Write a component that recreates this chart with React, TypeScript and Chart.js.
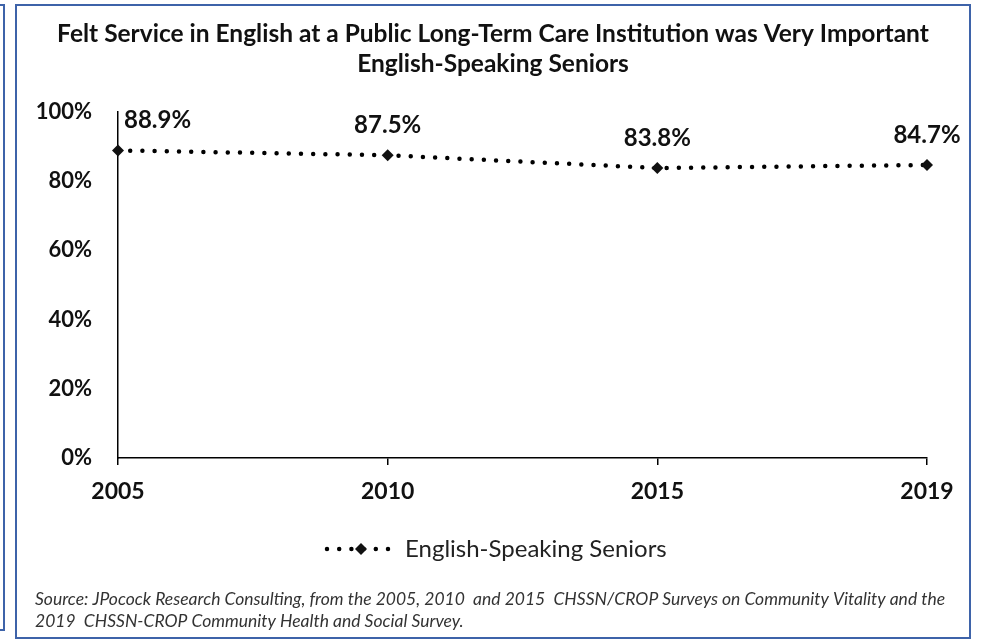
import React, { useEffect, useRef } from "react";
import { Chart, registerables } from "chart.js";

Chart.register(...registerables);

const YEARS = ["2005", "2010", "2015", "2019"];
const SENIORS = [88.9, 87.5, 83.8, 84.7];
const SERIES_NAME = "English-Speaking Seniors";
const Y_TICKS = [0, 20, 40, 60, 80, 100];
const TITLE_LINES = [
  "Felt Service in English at a Public Long-Term Care Institution was Very Important",
  "English-Speaking Seniors",
];
const SOURCE_LINES = [
  "Source: JPocock Research Consulting, from the 2005, 2010  and 2015  CHSSN/CROP Surveys on Community Vitality and the",
  "2019  CHSSN-CROP Community Health and Social Survey.",
];

const FONT = "Lato, 'Open Sans', sans-serif";
const FRAME = "#3E63A9";

const decorPlugin = {
  id: "decor",
  beforeDraw(chart: any) {
    const ctx = chart.ctx;
    ctx.save();
    ctx.fillStyle = "#ffffff";
    ctx.fillRect(0, 0, chart.width, chart.height);
    ctx.strokeStyle = FRAME;
    ctx.lineWidth = 2;
    ctx.beginPath();
    ctx.moveTo(0, 5);
    ctx.lineTo(4, 5);
    ctx.lineTo(4, 630);
    ctx.lineTo(0, 630);
    ctx.stroke();
    ctx.strokeRect(16, 5, 954, 633);
    ctx.restore();
  },
  afterDraw(chart: any) {
    const ctx = chart.ctx;
    ctx.save();
    ctx.fillStyle = "#111";
    ctx.font = `bold 24.5px ${FONT}`;
    ctx.textAlign = "center";
    ctx.textBaseline = "middle";
    ctx.fillText(TITLE_LINES[0], 493, 34);
    ctx.fillText(TITLE_LINES[1], 493, 64);

    const meta = chart.getDatasetMeta(0);
    ctx.font = `bold 24px ${FONT}`;
    ctx.fillStyle = "#111";
    meta.data.forEach((pt: any, i: number) => {
      const v = chart.data.datasets[0].data[i];
      const txt = v.toFixed(1) + "%";
      if (i === 0) {
        ctx.textAlign = "left";
        ctx.fillText(txt, pt.x + 6, pt.y - 30);
      } else {
        ctx.textAlign = "center";
        ctx.fillText(txt, pt.x, pt.y - 30);
      }
    });

    const ly = 549;
    ctx.strokeStyle = "#000";
    ctx.lineWidth = 4.5;
    ctx.lineCap = "round";
    ctx.setLineDash([0, 12.2]);
    ctx.beginPath();
    ctx.moveTo(327, ly);
    ctx.lineTo(400, ly);
    ctx.stroke();
    ctx.setLineDash([]);
    ctx.fillStyle = "#111";
    ctx.beginPath();
    ctx.moveTo(361, ly - 6);
    ctx.lineTo(367, ly);
    ctx.lineTo(361, ly + 6);
    ctx.lineTo(355, ly);
    ctx.closePath();
    ctx.fill();
    ctx.font = `24px ${FONT}`;
    ctx.textAlign = "left";
    ctx.fillStyle = "#222";
    ctx.fillText(chart.data.datasets[0].label, 405, ly);

    ctx.font = `italic 17.5px ${FONT}`;
    ctx.fillStyle = "#333";
    ctx.fillText(SOURCE_LINES[0], 35, 599);
    ctx.fillText(SOURCE_LINES[1], 35, 621);
    ctx.restore();
  },
};

export default function App() {
  const ref = useRef<HTMLCanvasElement>(null);
  useEffect(() => {
    document.body.style.margin = "0";
    const chart = new Chart(ref.current!, {
      type: "line",
      data: {
        labels: YEARS,
        datasets: [
          {
            label: SERIES_NAME,
            data: SENIORS,
            borderColor: "#000",
            backgroundColor: "#111",
            borderWidth: 4.5,
            borderDash: [0, 12.2],
            borderCapStyle: "round",
            pointStyle: "rectRot",
            pointRadius: 6,
            pointBackgroundColor: "#111",
            pointBorderColor: "#111",
            pointBorderWidth: 0,
            tension: 0,
          },
        ],
      },
      options: {
        responsive: false,
        animation: false,
        layout: { padding: { top: 112, right: 54, left: 0, bottom: 0 } },
        plugins: {
          legend: { display: false },
          title: { display: false },
          tooltip: { enabled: false },
        },
        scales: {
          x: {
            type: "category",
            offset: false,
            grid: {
              drawOnChartArea: false,
              drawTicks: true,
              tickLength: 7,
              color: "#000",
              lineWidth: 1.5,
            },
            border: { display: true, color: "#000", width: 1.5 },
            ticks: {
              color: "#111",
              padding: 13,
              font: { family: FONT, size: 23, weight: "bold" },
              maxRotation: 0,
            },
            afterFit: (s: any) => {
              s.height = 183;
            },
          },
          y: {
            min: 0,
            max: 100,
            afterBuildTicks: (s: any) => {
              s.ticks = Y_TICKS.map((v) => ({ value: v }));
            },
            grid: { drawOnChartArea: false, drawTicks: false },
            border: { display: true, color: "#000", width: 1.5 },
            ticks: {
              color: "#111",
              padding: 26,
              font: { family: FONT, size: 22, weight: "bold" },
              callback: (v: any) => v + "%",
            },
            afterFit: (s: any) => {
              s.width = 118;
            },
          },
        },
      },
      plugins: [decorPlugin],
    });
    return () => chart.destroy();
  }, []);
  return <canvas ref={ref} width={981} height={641} style={{ display: "block" }} />;
}
